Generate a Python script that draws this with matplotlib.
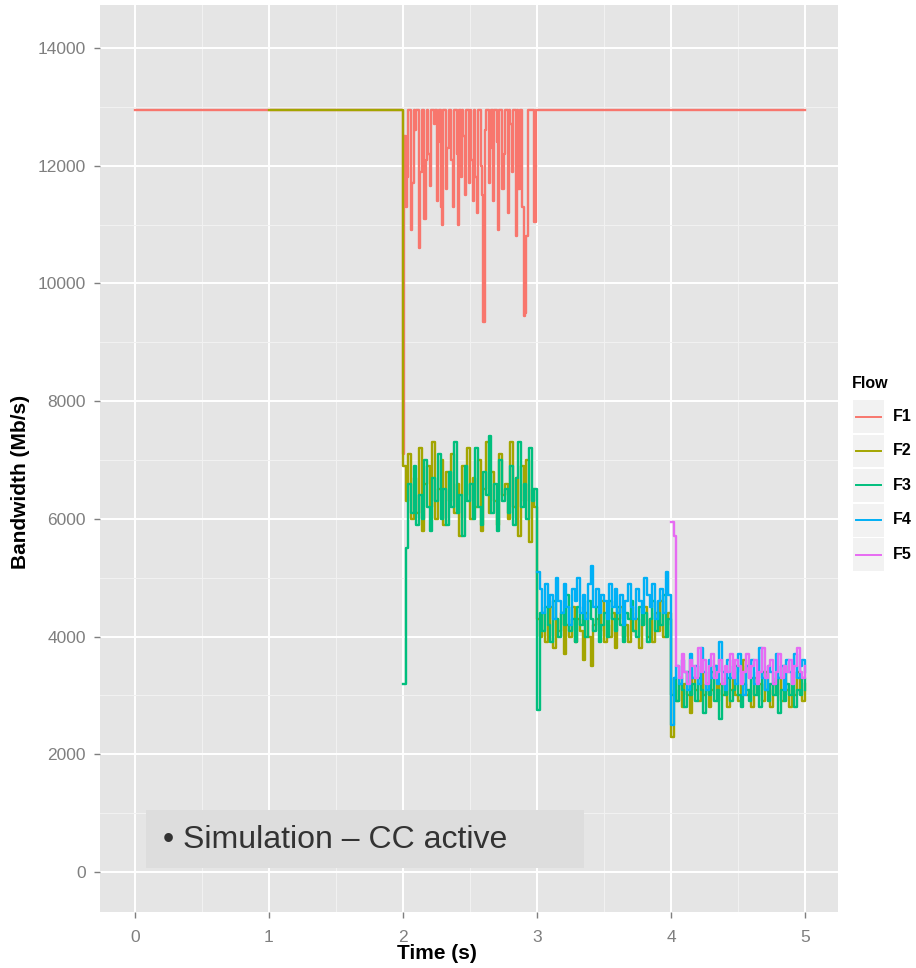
import matplotlib
matplotlib.use('Agg')
import matplotlib.pyplot as plt
from matplotlib.patches import Rectangle
from matplotlib.lines import Line2D
import numpy as np

plt.rcParams['font.family'] = ['Liberation Sans', 'DejaVu Sans']

# sample steps of the noisy parts (s)
step = 0.02
step_f1 = 0.01
line_level = 12950  # link rate, Mb/s

flows = ['F1', 'F2', 'F3', 'F4', 'F5']
colors = ['#F8766D', '#A3A500', '#00BF7D', '#00B0F6', '#E76BF3']

# F1: flat 0..2 s, noisy 2.00..2.99 s (0.01 s samples), flat again 3..5 s
f1_noisy = [7100, 12500, 11300, 11800, 12950, 12950, 10900, 11700, 12950, 12600,
            12950, 12950, 10600, 11900, 12950, 12950, 11100, 12100, 12950, 12200,
            11650, 12950, 12950, 12700, 12950, 11400, 12400, 12950, 11300, 11000,
            12950, 12950, 11600, 12300, 12950, 12950, 12100, 11300, 12950, 12950,
            12200, 11000, 12950, 11800, 12950, 12500, 11500, 12950, 12950, 11700,
            12950, 12100, 11400, 12950, 11800, 11200, 12950, 12950, 12000, 11500,
            9350, 12600, 12950, 12950, 11700, 12300, 12950, 11400, 12950, 12950,
            12400, 10900, 12950, 12950, 11600, 12200, 12950, 12950, 11200, 12950,
            12700, 11900, 12950, 12950, 10800, 12950, 11600, 12950, 12950, 11300,
            9450, 9500, 10800, 12950, 12950, 12950, 12950, 12950, 11050, 12950]

# F2: flat 1..2 s, then noisy from 2.00 s
f2_noisy = [6900, 6300, 7100, 6000, 6700, 6100, 7200, 5800, 6600, 6900,
            6200, 7300, 6000, 6500, 7000, 5900, 6800, 6300, 7100, 6100,
            6600, 5700, 6900, 6400, 7200, 6000, 6700, 6200, 7000, 5800,
            6500, 7300, 6100, 6800, 6300, 5900, 7100, 6400, 6600, 6000,
            7300, 6200, 6700, 5700, 6900, 6300, 7000, 5600, 6500, 6200,
            # 3..4 s
            4300, 4000, 4400, 3900, 4200, 4500, 3800, 4300, 4100, 4400,
            3700, 4200, 4000, 4500, 3900, 4300, 4100, 3600, 4400, 4000,
            3500, 4200, 4300, 4100, 4600, 3900, 4200, 4000, 4400, 3800,
            4300, 4500, 4000, 4200, 3900, 4400, 4100, 4300, 3800, 4200,
            4500, 4000, 4300, 3900, 4400, 4100, 4600, 4000, 4200, 4400,
            # 4..5 s
            2300, 3100, 2900, 3300, 2800, 3200, 3000, 2700, 3300, 3100,
            2900, 3400, 3000, 3200, 2800, 3100, 3500, 2900, 3200, 3000,
            3300, 2800, 3100, 3400, 3000, 2900, 3200, 3600, 3000, 3100,
            2800, 3300, 3000, 3200, 2900, 3400, 3100, 2800, 3200, 3000,
            3300, 2900, 3500, 3100, 2800, 3200, 3000, 3400, 3100, 2900, 3200]

# F3: starts at 2.00 s
f3_noisy = [3200, 5500, 6600, 6100, 6900, 5900, 6400, 6000, 7000, 6200,
            5800, 6700, 6300, 7100, 6000, 6500, 5900, 6800, 6200, 7300,
            6100, 6400, 5700, 6900, 6300, 6600, 6000, 7200, 6200, 5900,
            6800, 6400, 7400, 6100, 6600, 5800, 7000, 6300, 6500, 6100,
            6900, 5900, 6700, 7300, 6200, 6600, 6000, 7200, 6300, 6500,
            # 3..4 s
            2750, 4400, 4100, 4500, 4200, 3900, 4600, 4300, 4000, 4400,
            4200, 4700, 4100, 4300, 3900, 4500, 4200, 4400, 4000, 4600,
            4300, 4100, 4500, 3900, 4200, 4400, 4000, 4600, 4300, 4100,
            4500, 4200, 3900, 4400, 4300, 4600, 4100, 4000, 4500, 4200,
            4400, 3900, 4300, 4600, 4100, 4400, 4200, 4700, 4000, 4300,
            # 4..5 s
            3000, 3300, 2900, 3200, 3100, 2800, 3400, 3000, 3200, 2900,
            3300, 3100, 2700, 3200, 3000, 3400, 2900, 3100, 2600, 3200,
            3000, 3300, 2900, 3100, 3500, 3000, 2800, 3200, 3100, 2900,
            3300, 3000, 3200, 2800, 3400, 3100, 2900, 3200, 3000, 3300,
            2700, 3100, 2900, 3200, 3000, 3400, 2800, 3100, 3000, 3300, 3100]

# F4: starts at 3.00 s
f4_noisy = [5100, 4800, 4400, 4900, 4500, 4700, 4300, 5000, 4600, 4400,
            4900, 4500, 4200, 4800, 4600, 5000, 4400, 4700, 4300, 4900,
            5200, 4500, 4800, 4400, 4700, 4600, 4300, 4900, 4500, 4800,
            4400, 4700, 4200, 4600, 4900, 4500, 4300, 4800, 4600, 4400,
            5000, 4700, 4500, 4900, 4300, 4600, 4800, 4400, 5100, 4700,
            # 4..5 s
            2500, 3300, 3500, 3200, 3600, 3400, 3100, 3700, 3300, 3500,
            3200, 3800, 3400, 3100, 3600, 3300, 3500, 3200, 3900, 3400,
            3100, 3600, 3300, 3500, 3200, 3700, 3400, 3000, 3500, 3300,
            3600, 3200, 3400, 3800, 3300, 3100, 3500, 3400, 3200, 3700,
            3300, 3500, 3100, 3600, 3400, 3200, 3700, 3300, 3500, 3600, 3400]

# F5: starts at 4.00 s
f5_noisy = [5950, 5700, 3500, 3300, 3700, 3400, 3200, 3600, 3500, 3300,
            3800, 3400, 3600, 3200, 3500, 3700, 3300, 3400, 3600, 3200,
            3500, 3400, 3700, 3300, 3600, 3500, 3200, 3400, 3700, 3300,
            3500, 3600, 3200, 3400, 3800, 3300, 3500, 3600, 3200, 3400,
            3700, 3300, 3500, 3400, 3600, 3200, 3500, 3800, 3400, 3300, 3500]


def sampled(start, values, dt=step):
    return start + dt * np.arange(len(values)), np.array(values, dtype=float)


t1, v1 = sampled(2.0, f1_noisy, step_f1)
f1_t = np.concatenate([[0.0, 2.0], t1, [3.0, 5.0]])
f1_v = np.concatenate([[line_level, line_level], v1, [line_level, line_level]])

t2, v2 = sampled(2.0, f2_noisy)
f2_t = np.concatenate([[1.0, 2.0], t2])
f2_v = np.concatenate([[line_level, line_level], v2])

f3_t, f3_v = sampled(2.0, f3_noisy)
f4_t, f4_v = sampled(3.0, f4_noisy)
f5_t, f5_v = sampled(4.0, f5_noisy)

series = [(f1_t, f1_v), (f2_t, f2_v), (f3_t, f3_v), (f4_t, f4_v), (f5_t, f5_v)]

fig = plt.figure(figsize=(9.16, 9.68), dpi=100)
ax = fig.add_axes([100 / 916, 1 - 912 / 968, 738 / 916, 907 / 968])
ax.set_facecolor('#E5E5E5')

for (t, v), c in zip(series, colors):
    ax.plot(t, v, color=c, lw=1.7, drawstyle='steps-post')

ax.set_xlim(-0.261, 5.246)
ax.set_ylim(-680, 14730)
ax.set_xticks([0, 1, 2, 3, 4, 5])
ax.set_yticks([0, 2000, 4000, 6000, 8000, 10000, 12000, 14000])
ax.set_xticks(np.arange(0.5, 5, 1.0), minor=True)
ax.set_yticks(np.arange(1000, 14000, 2000), minor=True)
ax.grid(which='major', color='white', lw=1.4)
ax.grid(which='minor', color='#F2F2F2', lw=0.7)
ax.set_axisbelow(True)
for s in ax.spines.values():
    s.set_visible(False)
ax.tick_params(which='major', length=4, width=1, color='#7F7F7F',
               labelcolor='#7F7F7F', labelsize=12.5, pad=6)
ax.tick_params(axis='x', which='major', pad=9)
ax.tick_params(which='minor', length=0)
ax.set_xlabel('Time (s)', fontsize=15, fontweight='bold')
ax.set_ylabel('Bandwidth (Mb/s)', fontsize=15, fontweight='bold')
ax.xaxis.set_label_coords((437 - 100) / 738, -(944 - 912) / 907)
ax.yaxis.set_label_coords(-(100 - 30) / 738, (912 - 482) / 907)

# annotation box
fig.add_artist(Rectangle((146 / 916, 1 - 868 / 968), 438 / 916, 58 / 968,
                         transform=fig.transFigure, facecolor='#DDDDDD',
                         edgecolor='none', zorder=5))
fig.text(163 / 916, 1 - 840 / 968, '\u2022 Simulation \u2013 CC active',
         fontsize=23, color='#333333', va='center', ha='left', zorder=6)

# legend
fig.text(852 / 916, 1 - 383 / 968, 'Flow', fontsize=11.5, fontweight='bold',
         va='center', ha='left')
for i, (name, c) in enumerate(zip(flows, colors)):
    top = 400 + i * 34.5
    fig.add_artist(Rectangle((853 / 916, 1 - (top + 33) / 968), 31 / 916, 33 / 968,
                             transform=fig.transFigure, facecolor='#F2F2F2',
                             edgecolor='none'))
    yc = 1 - (top + 16.5) / 968
    fig.add_artist(Line2D([856 / 916, 881 / 916], [yc, yc], transform=fig.transFigure,
                          color=c, lw=1.4))
    fig.text(893 / 916, yc, name, fontsize=11.5, fontweight='bold', va='center', ha='left')

fig.savefig('out.png', dpi=100)
